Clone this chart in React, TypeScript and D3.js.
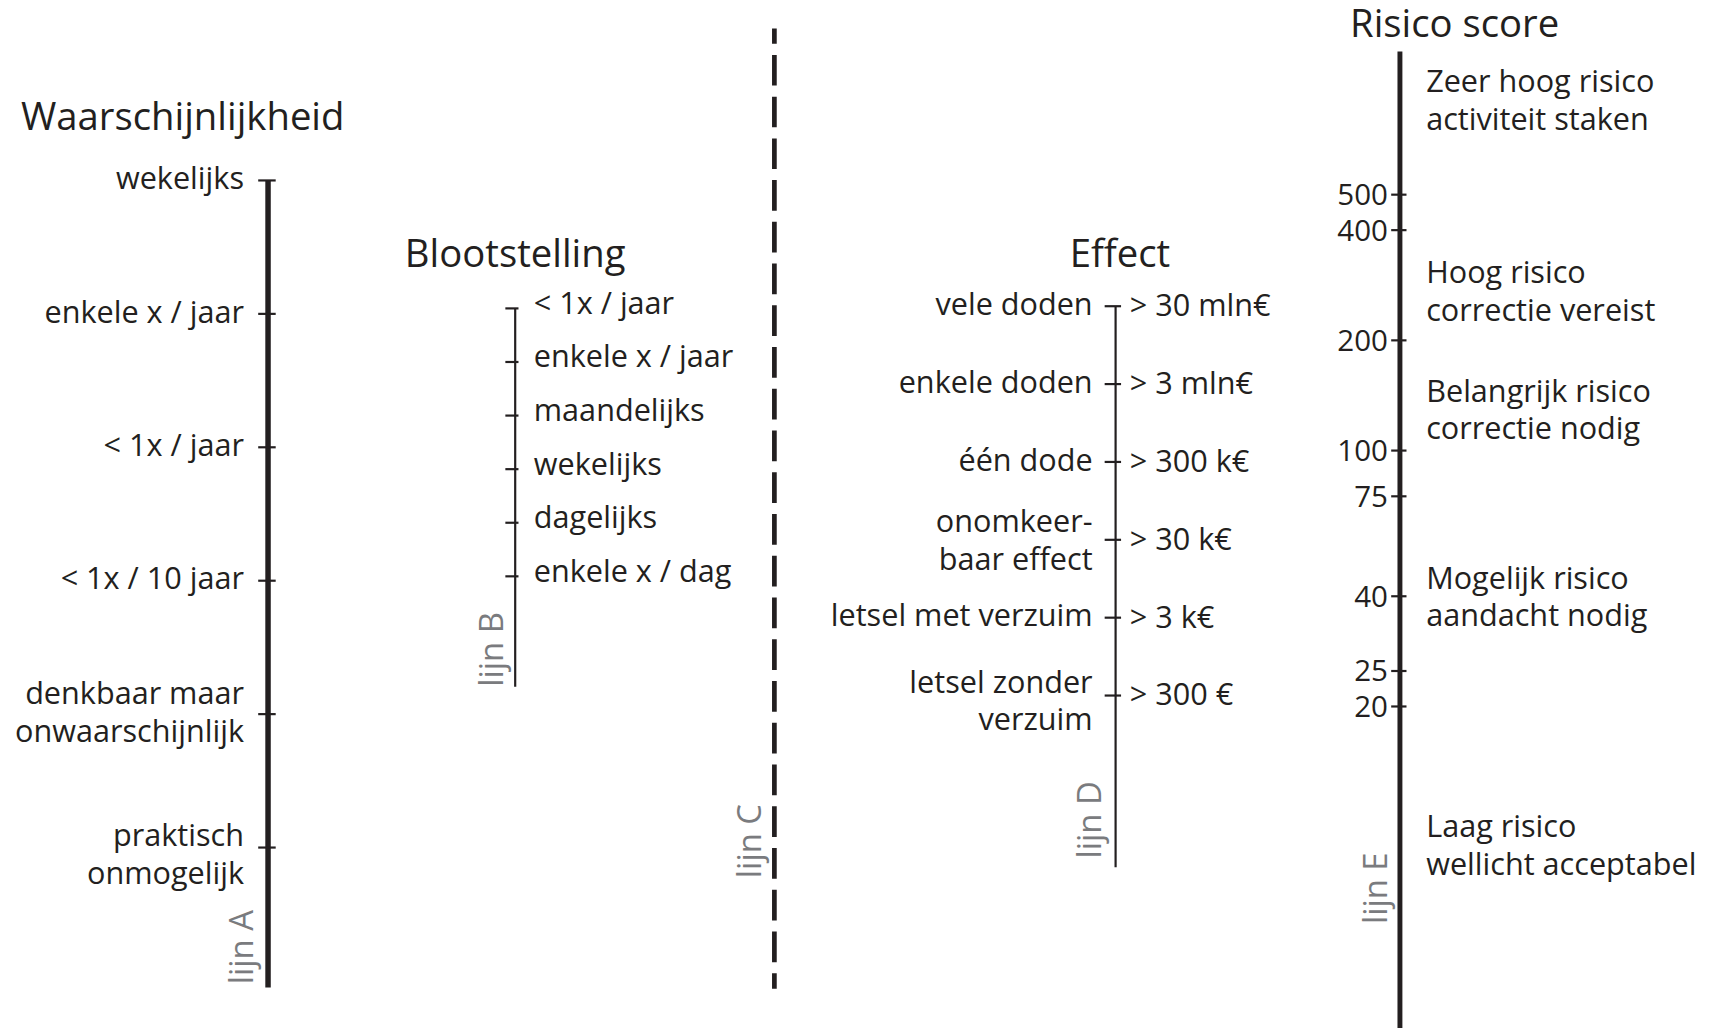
import React from "react";
import * as d3 from "d3";

// ---------- data ----------
const likelihoodLabels = [
  "wekelijks",
  "enkele x / jaar",
  "< 1x / jaar",
  "< 1x / 10 jaar",
  "denkbaar maar\nonwaarschijnlijk",
  "praktisch\nonmogelijk",
];
const exposureLabels = [
  "< 1x / jaar",
  "enkele x / jaar",
  "maandelijks",
  "wekelijks",
  "dagelijks",
  "enkele x / dag",
];
const effectLabels = [
  "vele doden",
  "enkele doden",
  "één dode",
  "onomkeer-\nbaar effect",
  "letsel met verzuim",
  "letsel zonder\nverzuim",
];
const effectCosts = [30000000, 3000000, 300000, 30000, 3000, 300];
const effectCostLabels = ["> 30 mln€", "> 3 mln€", "> 300 k€", "> 30 k€", "> 3 k€", "> 300 €"];
const riskTicks = [500, 400, 200, 100, 75, 40, 25, 20];
const riskZoneLabels = [
  "Zeer hoog risico\nactiviteit staken",
  "Hoog risico\ncorrectie vereist",
  "Belangrijk risico\ncorrectie nodig",
  "Mogelijk risico\naandacht nodig",
  "Laag risico\nwellicht acceptabel",
];
const riskZoneScores = [955, 287, 136, 42, 8.8];
const titles = ["Waarschijnlijkheid", "Blootstelling", "Effect", "Risico score"];
const lineNames = ["lijn A", "lijn B", "lijn C", "lijn D", "lijn E"];

// ---------- layout ----------
const W = 1568;
const H = 940;
const INK = "#231f20";
const GREY = "#7a7b7e";
const FONT = "'Open Sans', sans-serif";
const LABEL = 28;
const LH = 34.5;

const xA = 245, xB = 471, xC = 708, xD = 1020, xE = 1280;

const yA = d3.scalePoint<string>().domain(likelihoodLabels).range([165, 775]);
const yB = d3.scalePoint<string>().domain(exposureLabels).range([282, 527]);
const yD = d3.scaleLog().domain([300, 30000000]).range([636, 280]);
const yE = d3.scaleLog().domain([20, 500]).range([646, 178]);

const aBottom = 903, bBottom = 628, cTop = 26, cBottom = 904, dBottom = 793, eTop = 47, eBottom = H;

const nudge: Record<string, number> = {
  "praktisch\nonmogelijk": 8,
  "onomkeer-\nbaar effect": 2.5,
  "letsel zonder\nverzuim": 6.5,
};

function MultiText({ text, x, y, anchor, base, size = LABEL, fill = INK }: any) {
  const lines = text.split("\n");
  const n = lines.length;
  const shift = nudge[text] || 0;
  return (
    <text x={x} fontSize={size} fill={fill} textAnchor={anchor} fontFamily={FONT}>
      {lines.map((l: string, i: number) => (
        <tspan key={i} x={x} y={y + base + shift + (i - (n - 1) / 2) * LH}>
          {l}
        </tspan>
      ))}
    </text>
  );
}

function Tick({ x, y, left, right }: any) {
  return <line x1={x - left} x2={x + right} y1={y} y2={y} stroke={INK} strokeWidth={2} />;
}

function LineName({ name, x, y }: any) {
  return (
    <text
      transform={`translate(${x},${y}) rotate(-90)`}
      fontSize={30}
      fill={GREY}
      fontFamily={FONT}
      textAnchor="start"
    >
      {name}
    </text>
  );
}

export default function App() {
  const cLen = cBottom - cTop;
  const period = cLen / 23;
  const dash = period * 0.733;
  const gap = period - dash;

  return (
    <svg
      width={1715}
      height={1028}
      viewBox={`0 0 ${W} ${H}`}
      style={{ position: "absolute", left: 0, top: 0, background: "#fff" }}
    >
      {/* Titles */}
      <g fontFamily={FONT} fill={INK} fontSize={35} textAnchor="middle">
        <text x={167} y={119}>{titles[0]}</text>
        <text x={xB} y={244}>{titles[1]}</text>
        <text x={1024} y={244}>{titles[2]}</text>
        <text x={1330} y={34}>{titles[3]}</text>
      </g>

      {/* Line A */}
      <line x1={xA} x2={xA} y1={yA(likelihoodLabels[0])!} y2={aBottom} stroke={INK} strokeWidth={5} />
      {likelihoodLabels.map((l) => (
        <g key={l}>
          <Tick x={xA} y={yA(l)!} left={9} right={7} />
          <MultiText text={l} x={xA - 22} y={yA(l)!} anchor="end" base={8} />
        </g>
      ))}
      <LineName name={lineNames[0]} x={231} y={900} />

      {/* Line B */}
      <line x1={xB} x2={xB} y1={yB(exposureLabels[0])!} y2={bBottom} stroke={INK} strokeWidth={2} />
      {exposureLabels.map((l) => (
        <g key={l}>
          <Tick x={xB} y={yB(l)!} left={9} right={3} />
          <MultiText text={l} x={xB + 17} y={yB(l)!} anchor="start" base={5} />
        </g>
      ))}
      <LineName name={lineNames[1]} x={460} y={628} />

      {/* Line C (dashed pivot) */}
      <line
        x1={xC}
        x2={xC}
        y1={cTop}
        y2={cBottom}
        stroke={INK}
        strokeWidth={4.3}
        strokeDasharray={`${dash} ${gap}`}
        strokeDashoffset={dash / 2}
      />
      <LineName name={lineNames[2]} x={696} y={803} />

      {/* Line D */}
      <line x1={xD} x2={xD} y1={yD(effectCosts[0])} y2={dBottom} stroke={INK} strokeWidth={2} />
      {effectCosts.map((v, i) => (
        <g key={v}>
          <Tick x={xD} y={yD(v)} left={10} right={5} />
          <MultiText text={effectLabels[i]} x={xD - 21} y={yD(v)} anchor="end" base={8} />
          <MultiText text={effectCostLabels[i]} x={xD + 13} y={yD(v)} anchor="start" base={9} />
        </g>
      ))}
      <LineName name={lineNames[3]} x={1007} y={785} />

      {/* Line E */}
      <line x1={xE} x2={xE} y1={eTop} y2={eBottom} stroke={INK} strokeWidth={4.5} />
      {riskTicks.map((v) => (
        <g key={v}>
          <Tick x={xE} y={yE(v)} left={8} right={6} />
          <text x={xE - 11} y={yE(v) + 9.5} fontSize={27} fill={INK} textAnchor="end" fontFamily={FONT}>
            {v}
          </text>
        </g>
      ))}
      {riskZoneLabels.map((l, i) => (
        <MultiText key={l} text={l} x={xE + 24} y={yE(riskZoneScores[i])} anchor="start" base={LH / 2} />
      ))}
      <LineName name={lineNames[4]} x={1268} y={845} />
    </svg>
  );
}
